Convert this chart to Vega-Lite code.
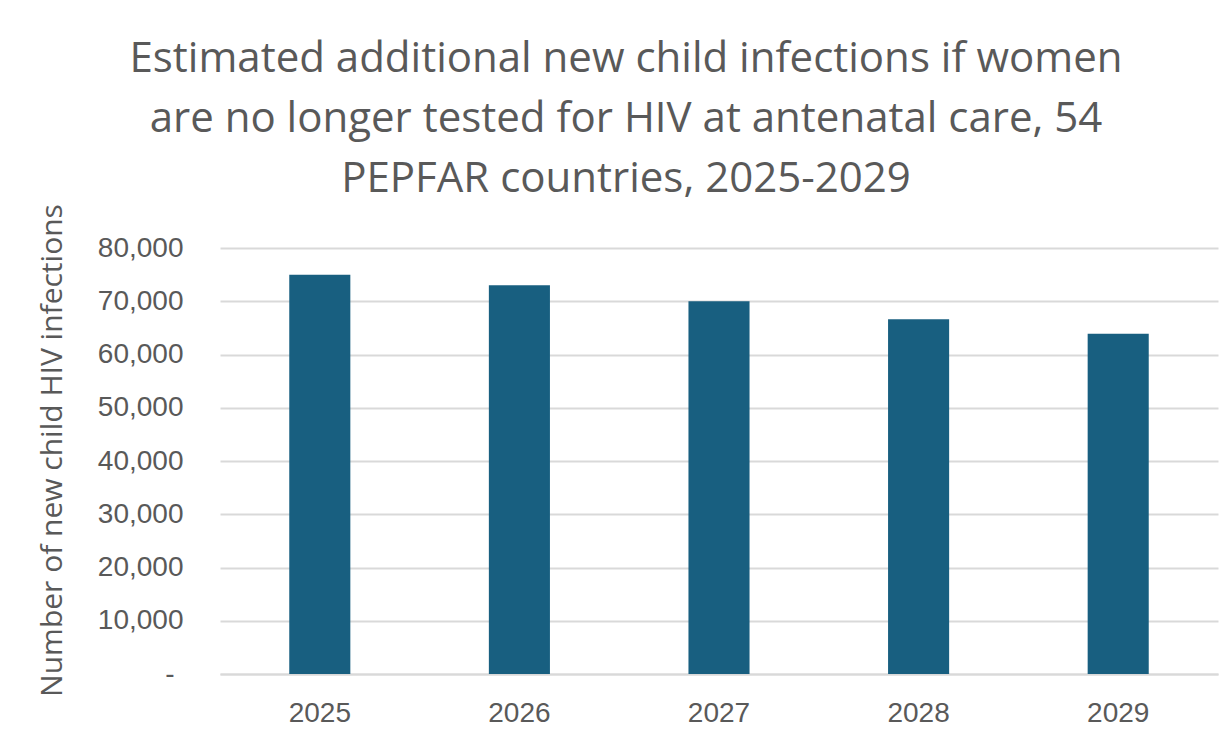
{
  "$schema": "https://vega.github.io/schema/vega-lite/v6.json",
  "width": 998,
  "height": 426,
  "autosize": {"type": "none"},
  "padding": {"left": 220, "top": 248, "right": 10, "bottom": 60},
  "background": "#ffffff",
  "title": {
    "text": [
      "Estimated additional new child infections if women",
      "are no longer tested for HIV at antenatal care, 54",
      "PEPFAR countries, 2025-2029"
    ],
    "font": "Open Sans",
    "fontSize": 42,
    "fontWeight": "normal",
    "color": "#595959",
    "lineHeight": 60,
    "anchor": "middle",
    "frame": "group",
    "dx": -93,
    "offset": 3
  },
  "data": {
    "values": [
      {"year": "2025", "infections": 75000},
      {"year": "2026", "infections": 73000},
      {"year": "2027", "infections": 70000},
      {"year": "2028", "infections": 66600},
      {"year": "2029", "infections": 63900}
    ]
  },
  "mark": {"type": "bar", "color": "#185f80"},
  "encoding": {
    "x": {
      "field": "year",
      "type": "ordinal",
      "scale": {"paddingInner": 0.694, "paddingOuter": 0.347},
      "axis": {
        "title": null,
        "labelAngle": 0,
        "labelFont": "Liberation Sans",
        "labelFontSize": 28,
        "labelColor": "#595959",
        "labelPadding": 25,
        "ticks": false,
        "domainColor": "#d9d9d9",
        "domainWidth": 2
      }
    },
    "y": {
      "field": "infections",
      "type": "quantitative",
      "scale": {"domain": [0, 80000], "nice": false},
      "axis": {
        "title": "Number of new child HIV infections",
        "titleFont": "Open Sans",
        "titleFontSize": 30,
        "titleFontWeight": "normal",
        "titleColor": "#595959",
        "titleY": 202,
        "titlePadding": 30,
        "values": [0, 10000, 20000, 30000, 40000, 50000, 60000, 70000, 80000],
        "labelExpr": "datum.value == 0 ? '-' : format(datum.value, ',')",
        "labelFont": "Liberation Sans",
        "labelFontSize": 28,
        "labelColor": "#595959",
        "labelPadding": {"condition": {"test": "datum.value == 0", "value": 46}, "value": 37},
        "ticks": false,
        "domain": false,
        "grid": true,
        "gridColor": "#d9d9d9",
        "gridWidth": 2
      }
    }
  },
  "config": {"view": {"stroke": null}}
}
